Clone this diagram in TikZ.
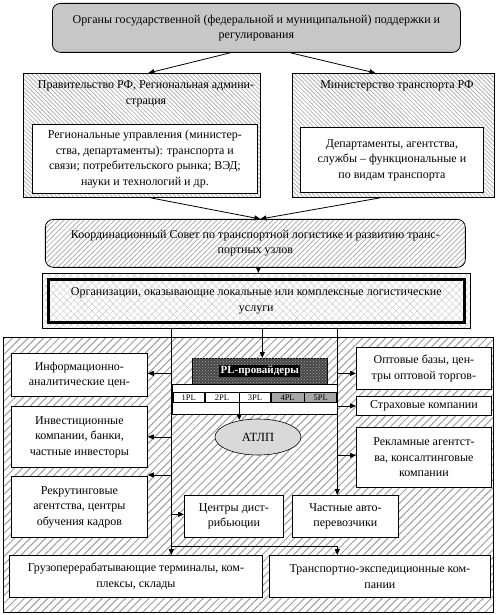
\documentclass[tikz,border=0pt]{standalone}
\usepackage{fontspec}
\setmainfont{Liberation Serif}
\usetikzlibrary{arrows.meta,patterns,patterns.meta,shapes.geometric,calc}
\begin{document}
\begin{tikzpicture}[x=1pt,y=-1pt,
  txt/.style={font=\fontsize{12}{15.5}\selectfont, align=center, inner sep=0pt},
  bx/.style={draw, line width=0.8pt, anchor=north west, txt},
  whitebox/.style={bx, fill=white},
  hatchNE/.style={pattern={Lines[angle=45,distance=5.5pt,line width=1pt]}, pattern color=black!38},
  hatchNEfine/.style={pattern={Lines[angle=45,distance=3.6pt,line width=0.7pt]}, pattern color=black!35},
  hatchNW/.style={pattern={Lines[angle=-45,distance=3pt,line width=0.8pt]}, pattern color=black!30},
  cross/.style={preaction={fill=white}, preaction={pattern={Lines[angle=45,distance=5pt,line width=0.4pt]}, pattern color=black!22}, pattern={Lines[angle=-45,distance=5pt,line width=0.4pt]}, pattern color=black!22},
  cellbox/.style={draw, line width=0.6pt, anchor=north west, minimum height=10pt, inner sep=0pt, font=\fontsize{8.5}{9}\selectfont},
  arr/.style={line width=0.8pt, -{Triangle[length=6pt,width=5pt]}},
  ln/.style={line width=0.8pt}
]
\useasboundingbox (0,0) rectangle (497,615);
\fill[white] (0,0) rectangle (497,615);

% top
\node[bx, fill=black!22, rounded corners=8pt, minimum width=408pt, minimum height=49pt] (top) at (52,3)
  {Органы государственной (федеральной и муниципальной) поддержки и\\регулирования};

% government
\node[bx, hatchNW, minimum width=237pt, minimum height=124pt] (prav) at (23,73) {};
\node[txt] (pravT) at (146,94) {Правительство РФ, Региональная админи-\\страция};
\node[whitebox, minimum width=225pt, minimum height=69pt] (pravIn) at (32,124)
  {Региональные управления (министер-\\ства, департаменты): транспорта и\\связи; потребительского рынка; ВЭД;\\науки и технологий и др.};

\node[bx, hatchNW, minimum width=202pt, minimum height=124pt] (min) at (292,73) {};
\node[txt] (minT) at (397,86) {Министерство транспорта РФ};
\node[whitebox, minimum width=183pt, minimum height=65pt] (minIn) at (300,127)
  {Департаменты, агентства,\\службы -- функциональные и\\по видам транспорта};

% coordination
\node[bx, hatchNEfine, rounded corners=8pt, minimum width=420pt, minimum height=48pt] (coord) at (45,219)
  {Координационный Совет по транспортной логистике и развитию транс-\\портных узлов};

% organisations
\node[bx, cross, line width=0.6pt, minimum width=428pt, minimum height=55pt] (org) at (42,273)
  {Организации, оказывающие локальные или комплексные логистические\\услуги};
\draw[line width=3pt] ($(org.north west)+(6.5,6)$) rectangle ($(org.south east)+(-6.5,-6.5)$);

% big area
\node[bx, hatchNE, minimum width=490pt, minimum height=275pt] (outer) at (3,337) {};

% left column
\node[whitebox, minimum width=136pt, minimum height=43pt] (info) at (11,353) {Информационно-\\аналитические цен-};
\node[whitebox, minimum width=136pt, minimum height=61pt] (inv) at (11,406) {Инвестиционные\\компании, банки,\\частные инвесторы};
\node[whitebox, minimum width=136pt, minimum height=61pt] (rec) at (11,476) {Рекрутинговые\\агентства, центры\\обучения кадров};

% right column
\node[whitebox, minimum width=135pt, minimum height=42pt] (opt) at (356,347) {Оптовые базы, цен-\\тры оптовой торгов-};
\node[whitebox, minimum width=135pt, minimum height=19pt] (str) at (356,396) {Страховые компании};
\node[whitebox, minimum width=135pt, minimum height=60pt] (rek) at (356,427) {Рекламные агентст-\\ва, консалтинговые\\компании};

% centre
\node[whitebox, minimum width=99pt, minimum height=42pt] (cen) at (184,495) {Центры дист-\\рибьюции};
\node[whitebox, minimum width=106pt, minimum height=42pt] (cha) at (292,495) {Частные авто-\\перевозчики};

% bottom
\node[whitebox, minimum width=253pt, minimum height=42pt] (gru) at (9,555) {Грузоперерабатывающие терминалы, ком-\\плексы, склады};
\node[whitebox, minimum width=221pt, minimum height=42pt] (tra) at (269,555) {Транспортно-экспедиционные ком-\\пании};

% PL providers
\node[bx, line width=0.6pt, fill=black!72, minimum width=135pt, minimum height=26pt,
  postaction={pattern=crosshatch dots, pattern color=black!35}] (PL) at (192,358) {};
\node[inner sep=1.2pt, fill=black, text=white, font=\fontsize{11}{12}\selectfont\bfseries] (PLt) at (PL.center) {PL-провайдеры};
\node[bx, fill=white, line width=0.6pt, minimum width=165pt, minimum height=30pt] (tab) at (172,384) {};
\node[cellbox, fill=white, minimum width=31pt] (c1) at (173,392) {1PL};
\node[cellbox, fill=white, minimum width=34pt] (c2) at (c1.north east) {2PL};
\node[cellbox, fill=white, minimum width=31pt] (c3) at (c2.north east) {3PL};
\node[cellbox, fill=black!35, minimum width=33pt] (c4) at (c3.north east) {4PL};
\node[cellbox, fill=black!35, minimum width=32pt] (c5) at (c4.north east) {5PL};

\node[ellipse, draw, line width=0.6pt, fill=black!15, minimum width=86pt, minimum height=36pt, inner sep=0pt,
  font=\fontsize{12.5}{14}\selectfont] (atlp) at (258,437) {АТЛП};

% connectors top part
\draw[arr] ([xshift=-26pt]top.south) -- ([xshift=6.5pt]prav.north);
\draw[arr] ([xshift=34pt]top.south) -- ([xshift=-18pt]min.north);
\draw[arr] ([xshift=8.5pt]prav.south) -- ([xshift=5pt]coord.north);
\draw[arr] ([xshift=-13pt]min.south) -- ([xshift=5pt]coord.north);
\draw[arr] ([xshift=3pt]coord.south) -- ([xshift=3pt]coord.south |- org.north);

% lower connectors
\coordinate (Lt) at ([xshift=-85pt]org.south);
\coordinate (Rt) at ([xshift=81pt]org.south);
\coordinate (Ct) at ([xshift=6pt]org.south);
\coordinate (Bl) at ($(Lt |- gru.north)+(0,-9)$);
\draw[arr] (Ct) -- (Ct |- PL.north);
\draw[arr] (Lt) -- (Lt |- gru.north);
\draw[arr] (Rt) -- (Rt |- cha.north);
\draw[ln] (Bl) -- (Bl -| Rt);
\draw[arr] (Bl -| Rt) -- (Rt |- tra.north);
\draw[arr] ($(Lt |- info.east)+(0,-1.5)$) -- ($(info.east)+(0,-1.5)$);
\draw[arr] (Lt |- inv.east) -- (inv.east);
\draw[arr] ($(Lt |- rec.north east)+(0,-1)$) -- ($(rec.north east)+(0,-1)$);
\draw[arr] ($(Lt |- cen.west)+(0,-2)$) -- ($(cen.west)+(0,-2)$);
\draw[arr] ($(Rt |- opt.west)+(0,5)$) -- ($(opt.west)+(0,5)$);
\draw[arr] (Rt |- str.west) -- (str.west);
\draw[arr] ($(Rt |- rek.west)+(0,-2)$) -- ($(rek.west)+(0,-2)$);
\draw[arr] (c2.south east) -- ($(c2.south east |- atlp.north)+(0,1.5)$);
\end{tikzpicture}
\end{document}
